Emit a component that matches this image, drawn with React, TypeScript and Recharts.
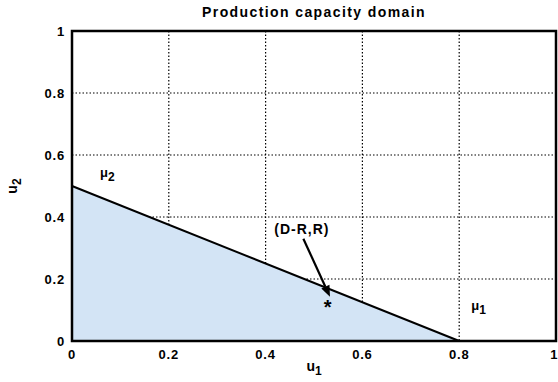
import React from "react";
import {
  ComposedChart,
  Area,
  XAxis,
  YAxis,
  CartesianGrid,
  ReferenceDot,
  ReferenceLine,
  ReferenceArea,
} from "recharts";

const capacityU1 = [0, 0.8];
const capacityU2 = [0.5, 0];
const ticks = [0, 0.2, 0.4, 0.6, 0.8, 1];
const tickLabels = ["0", "0.2", "0.4", "0.6", "0.8", "1"];
const pointDR = { x: 0.528, y: 0.12 };
const arrowFrom = { x: 0.478, y: 0.33 };
const arrowTo = { x: 0.533, y: 0.143 };
const labelDR = { x: 0.475, y: 0.345, text: "(D-R,R)" };
const mu2 = { x: 0.058, y: 0.53, sub: "2" };
const mu1 = { x: 0.825, y: 0.1, sub: "1" };

const data = capacityU1.map((u1, i) => ({ u1, u2: capacityU2[i] }));

const FONT = "Liberation Sans, Arial, sans-serif";

const fmt = (v: number) => tickLabels[ticks.indexOf(v)] ?? String(v);

const MuLabel = (sub: string) => (props: any) => (
  <text x={props.cx} y={props.cy} fontFamily={FONT} fontWeight="bold" fontSize={13} fill="#000">
    <tspan>μ</tspan>
    <tspan dy={4} fontSize={12}>{sub}</tspan>
  </text>
);

const Arrow = (props: any) => {
  const { x1, y1, x2, y2 } = props;
  const dx = x2 - x1;
  const dy = y2 - y1;
  const len = Math.sqrt(dx * dx + dy * dy);
  const ux = dx / len;
  const uy = dy / len;
  const hl = 11;
  const hw = 4.5;
  const bx = x2 - ux * hl;
  const by = y2 - uy * hl;
  const pts = `${x2},${y2} ${bx - uy * hw},${by + ux * hw} ${bx + uy * hw},${by - ux * hw}`;
  return (
    <g>
      <line x1={x1} y1={y1} x2={bx} y2={by} stroke="#000" strokeWidth={2.2} />
      <polygon points={pts} fill="#000" />
    </g>
  );
};

const tickStyle = { fill: "#000", fontFamily: FONT, fontWeight: "bold", fontSize: 13, letterSpacing: 0.8 };

export default function App() {
  return (
    <div style={{ position: "absolute", left: 0, top: 0, width: 558, height: 382, background: "#fff" }}>
      <div
        style={{
          position: "absolute",
          left: 72,
          width: 484,
          top: 4,
          textAlign: "center",
          fontFamily: FONT,
          fontWeight: "bold",
          fontSize: 14,
          letterSpacing: 1.4,
        }}
      >
        Production capacity domain
      </div>
      <div
        style={{
          position: "absolute",
          left: 72,
          width: 484,
          top: 358,
          textAlign: "center",
          fontFamily: FONT,
          fontWeight: "bold",
          fontSize: 14,
        }}
      >
        u<sub style={{ fontSize: 12, verticalAlign: "-4px" }}>1</sub>
      </div>
      <div
        style={{
          position: "absolute",
          left: 14,
          top: 186,
          transform: "translate(-50%, -50%) rotate(-90deg)",
          fontFamily: FONT,
          fontWeight: "bold",
          fontSize: 14,
          whiteSpace: "nowrap",
        }}
      >
        u<sub style={{ fontSize: 12, verticalAlign: "-4px" }}>2</sub>
      </div>
      <ComposedChart
        width={558}
        height={382}
        data={data}
        margin={{ top: 31, right: 2, left: 0, bottom: 0 }}
        style={{ position: "absolute", left: 0, top: 0 }}
      >
        <CartesianGrid stroke="#000" strokeDasharray="1.5 2" strokeWidth={1.2} />
        <XAxis
          dataKey="u1"
          type="number"
          domain={[0, 1]}
          ticks={ticks}
          tickFormatter={fmt}
          height={41}
          axisLine={false}
          tickLine={false}
          tickMargin={3}
          tick={tickStyle}
        />
        <YAxis
          type="number"
          domain={[0, 1]}
          ticks={ticks}
          tickFormatter={fmt}
          width={72}
          axisLine={false}
          tickLine={false}
          tickMargin={1}
          tick={tickStyle}
        />
        <Area
          dataKey="u2"
          type="linear"
          stroke="#000"
          strokeWidth={2}
          fill="#d3e4f5"
          fillOpacity={1}
          isAnimationActive={false}
          dot={false}
          activeDot={false}
        />
        <ReferenceArea
          x1={0}
          x2={1}
          y1={0}
          y2={1}
          fill="none"
          stroke="#000"
          strokeWidth={2.5}
          ifOverflow="visible"
        />
        <ReferenceLine
          segment={[arrowFrom, arrowTo]}
          ifOverflow="visible"
          shape={Arrow}
        />
        <ReferenceDot
          x={pointDR.x}
          y={pointDR.y}
          ifOverflow="visible"
          shape={(p: any) => (
            <text x={p.cx} y={p.cy + 10} textAnchor="middle" fontFamily={FONT} fontWeight="bold" fontSize={20} fill="#000">
              *
            </text>
          )}
        />
        <ReferenceDot
          x={labelDR.x}
          y={labelDR.y}
          ifOverflow="visible"
          shape={(p: any) => (
            <text x={p.cx} y={p.cy} textAnchor="middle" fontFamily={FONT} fontWeight="bold" fontSize={14} letterSpacing={1} fill="#000">
              {labelDR.text}
            </text>
          )}
        />
        <ReferenceDot x={mu2.x} y={mu2.y} ifOverflow="visible" shape={MuLabel(mu2.sub)} />
        <ReferenceDot x={mu1.x} y={mu1.y} ifOverflow="visible" shape={MuLabel(mu1.sub)} />
      </ComposedChart>
    </div>
  );
}
